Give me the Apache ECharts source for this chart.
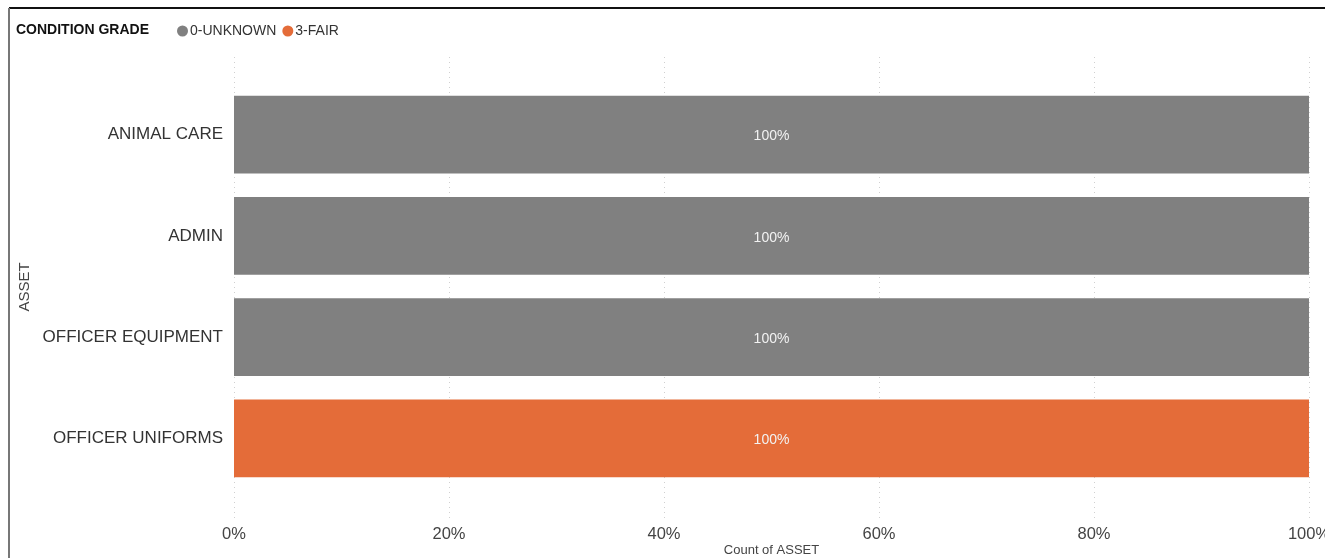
<!DOCTYPE html>
<html><head><meta charset="utf-8">
<script src="https://cdn.jsdelivr.net/npm/echarts@6/dist/echarts.min.js"></script>
<style>html,body{margin:0;padding:0;background:#fff}#c{width:1325px;height:558px}</style>
</head><body><div id="c"></div>
<script>
const categories = ["ANIMAL CARE", "ADMIN", "OFFICER EQUIPMENT", "OFFICER UNIFORMS"];
const unknownValues = [1, 1, 1, null];
const fairValues = [null, null, null, 1];
const xTicks = [0, 0.2, 0.4, 0.6, 0.8, 1];
const seriesNames = ["0-UNKNOWN", "3-FAIR"];

const font = "Liberation Sans, Arial, sans-serif";
const chart = echarts.init(document.getElementById('c'));
const pct = v => Math.round(v * 100) + '%';
const barLabel = {show: true, position: 'inside', color: '#f2f2f2', fontSize: 14, fontFamily: font,
  offset: [0, 2], formatter: p => pct(p.value)};
chart.setOption({
  animation: false,
  legend: {
    left: 172, top: 19, icon: 'circle', itemWidth: 11, itemHeight: 11, itemGap: 6,
    data: seriesNames,
    textStyle: {color: '#333', fontSize: 14, fontFamily: font, padding: [0, 0, 0, -3]}
  },
  grid: [
    {left: 234, right: 16, top: 57, bottom: 40, containLabel: false, outerBoundsMode: 'none'},
    {left: 234, right: 16, top: 84, height: 405, containLabel: false, outerBoundsMode: 'none'}
  ],
  xAxis: [
    {gridIndex: 0, type: 'value', min: 0, max: 1, interval: 0.2,
     axisLine: {show: false}, axisTick: {show: false},
     splitLine: {show: true, lineStyle: {type: [1, 4], color: '#d0d0d0', width: 1}},
     axisLabel: {formatter: v => pct(v), color: '#444', fontSize: 16.5, fontFamily: font, margin: 8},
     name: 'Count of ASSET', nameLocation: 'middle', nameGap: 26, nameMoveOverlap: false,
     nameTextStyle: {color: '#444', fontSize: 13, fontFamily: font}},
    {gridIndex: 1, type: 'value', min: 0, max: 1, show: false}
  ],
  yAxis: [
    {gridIndex: 0, type: 'category', data: categories, show: false, inverse: true},
    {gridIndex: 1, type: 'category', data: categories, inverse: true,
     axisLine: {show: false}, axisTick: {show: false},
     axisLabel: {color: '#333', fontSize: 17, fontFamily: font, margin: 11, padding: [3, 0, 0, 0]}}
  ],
  series: [
    {name: seriesNames[0], type: 'bar', stack: 's', xAxisIndex: 1, yAxisIndex: 1, data: unknownValues,
     itemStyle: {color: '#808080'}, barCategoryGap: '23%', label: barLabel},
    {name: seriesNames[1], type: 'bar', stack: 's', xAxisIndex: 1, yAxisIndex: 1, data: fairValues,
     itemStyle: {color: '#E46C39'}, barCategoryGap: '23%', label: barLabel}
  ],
  graphic: [
    {type: 'line', shape: {x1: 9, y1: 8, x2: 1325, y2: 8}, style: {stroke: '#111', lineWidth: 2}},
    {type: 'line', shape: {x1: 9, y1: 8, x2: 9, y2: 558}, style: {stroke: '#777', lineWidth: 2}},
    {type: 'text', left: 16, top: 23, style: {text: 'CONDITION GRADE', font: 'bold 14px ' + font, fill: '#111'}},
    {type: 'text', x: 17, y: 287, rotation: Math.PI / 2,
     style: {text: 'ASSET', font: '15px ' + font, fill: '#444', align: 'center', verticalAlign: 'top'}}
  ]
});
</script></body></html>
